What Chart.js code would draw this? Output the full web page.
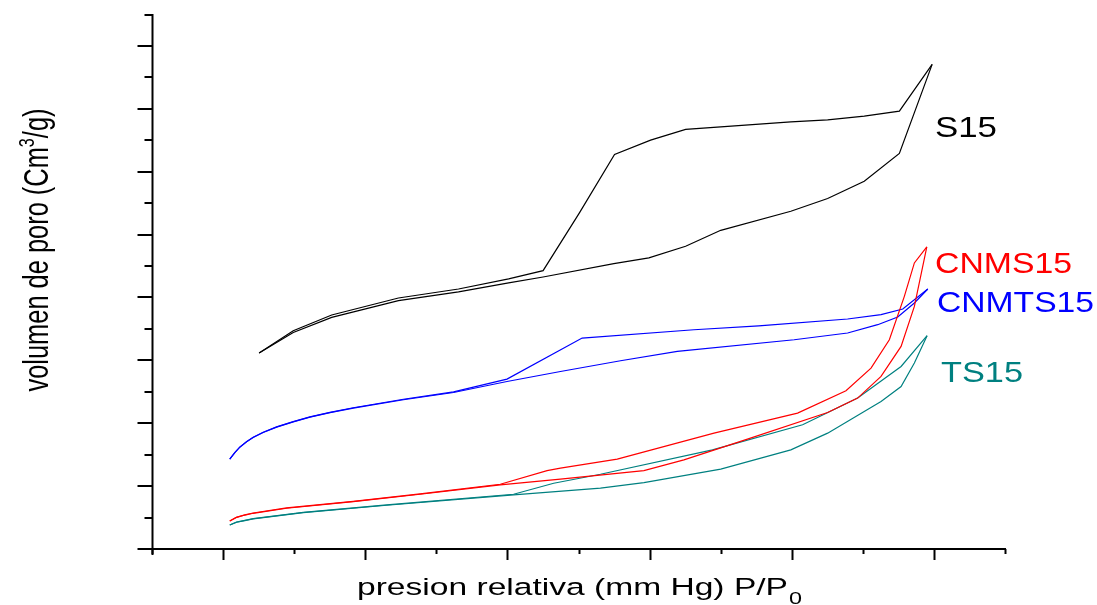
<!DOCTYPE html>
<html>
<head>
<meta charset="utf-8">
<script src="https://cdn.jsdelivr.net/npm/chart.js@4"></script>
<style>
  html, body { margin: 0; padding: 0; background: #fff; }
  #wrap { width: 1097px; height: 605px; }
</style>
</head>
<body>
<div id="wrap"><canvas id="c" width="1097" height="605"></canvas></div>
<script>
// Nitrogen isotherms: relative pressure P/P0 and pore volume,
// adsorption (Ads) and desorption (Des) branches for each sample.

const s15AdsP = [0.0507, 0.0987, 0.1528, 0.2467, 0.3312, 0.4017, 0.4502, 0.5497, 0.599, 0.6507, 0.7001, 0.7987, 0.8505, 0.902, 0.9514, 0.9975];
const s15AdsV = [311.6, 344.4, 368.3, 394.9, 408.8, 423.1, 432.6, 453.8, 462.9, 481.4, 506.8, 537.1, 557.3, 584.9, 629.0, 770.7];
const s15DesP = [0.9975, 0.9514, 0.902, 0.8505, 0.7987, 0.7001, 0.6507, 0.6014, 0.5507, 0.5013, 0.4502, 0.4017, 0.3312, 0.2467, 0.1528, 0.0987, 0.0507];
const s15DesV = [770.7, 696.3, 688.4, 682.3, 679.1, 671.2, 667.2, 650.2, 627.4, 534.6, 442.7, 429.5, 413.5, 399.2, 372.1, 347.1, 311.6];

const cnmts15AdsP = [0.0094, 0.0165, 0.0235, 0.033, 0.0423, 0.0564, 0.0753, 0.0987, 0.1222, 0.1504, 0.1832, 0.2537, 0.3242, 0.3994, 0.4746, 0.5591, 0.639, 0.8034, 0.8786, 0.9209, 0.9491, 0.9725, 0.9914];
const cnmts15AdsV = [142.8, 153.3, 161.9, 170.4, 177.2, 185.2, 193.8, 202.2, 209.7, 217.0, 224.0, 237.3, 248.9, 266.4, 282.3, 299.4, 314.2, 332.8, 343.5, 356.7, 368.9, 391.2, 413.5];
const cnmts15DesP = [0.9914, 0.9562, 0.9256, 0.8786, 0.7535, 0.6624, 0.5051, 0.3994, 0.3242, 0.2537, 0.1832, 0.1504, 0.1222, 0.0987, 0.0753, 0.0564, 0.0423, 0.033, 0.0235, 0.0165, 0.0094];
const cnmts15DesV = [413.5, 381.7, 372.6, 365.8, 354.8, 348.7, 335.5, 270.2, 250.0, 238.1, 224.6, 217.4, 210.2, 202.6, 194.2, 185.6, 177.6, 170.7, 162.1, 153.4, 142.8];

const cnms15AdsP = [0.0094, 0.0188, 0.0306, 0.0423, 0.0894, 0.1832, 0.2772, 0.39, 0.4746, 0.592, 0.6483, 0.7377, 0.8505, 0.8927, 0.9256, 0.9538, 0.9725, 0.99];
const cnms15AdsV = [44.6, 50.2, 54.0, 56.8, 64.8, 75.3, 87.1, 101.9, 111.0, 124.7, 141.7, 174.7, 217.0, 240.0, 274.4, 322.1, 385.8, 480.4];
const cnms15DesP = [0.99, 0.9725, 0.9584, 0.9373, 0.9115, 0.8763, 0.8082, 0.6906, 0.5545, 0.4746, 0.4558, 0.39, 0.2772, 0.1832, 0.0894, 0.0423, 0.0306, 0.0188, 0.0094];
const cnms15DesV = [480.4, 454.9, 401.8, 332.8, 287.7, 251.6, 216.1, 184.2, 142.8, 128.5, 124.7, 103.0, 87.6, 75.6, 65.3, 57.3, 54.3, 50.4, 44.6];

const ts15AdsP = [0.0094, 0.0188, 0.0306, 0.0423, 0.1128, 0.2303, 0.4087, 0.5309, 0.592, 0.7001, 0.7987, 0.8505, 0.9256, 0.9538, 0.9725, 0.9904];
const ts15AdsV = [38.2, 42.5, 45.1, 47.8, 57.8, 69.6, 86.0, 96.7, 105.6, 126.9, 157.6, 184.2, 234.6, 258.4, 295.7, 339.2];
const ts15DesP = [0.9904, 0.9538, 0.8927, 0.8153, 0.6885, 0.5309, 0.4651, 0.4087, 0.2303, 0.1128, 0.0423, 0.0306, 0.0188, 0.0094];
const ts15DesV = [339.2, 290.3, 240.0, 197.5, 157.6, 118.9, 104.6, 87.1, 70.1, 58.1, 48.2, 45.4, 42.7, 38.2];

// Sample names and their colours
const sampleNames = ['S15', 'CNMS15', 'CNMTS15', 'TS15'];
const sampleColors = ['#000000', '#ff0000', '#0000ff', '#008080'];

// Axis ranges and tick spacing
const xMin = -0.1, xMax = 1.1, xMinorStep = 0.1;
const yMin = 0, yMax = 850, yMinorStep = 50;

const xTitle = 'presion relativa (mm Hg) P/P';
const xTitleSub = '0';
const yTitleMain = 'volumen de poro (Cm';
const yTitleSup = '3';
const yTitleEnd = '/g)';

function pts(px, py) { return px.map((p, i) => ({ x: p, y: py[i] })); }

function branch(px, py, color) {
  return {
    data: pts(px, py),
    borderColor: color,
    backgroundColor: color,
    borderWidth: 1.2,
    showLine: true,
    pointRadius: 0,
    pointHoverRadius: 0,
    tension: 0,
    fill: false
  };
}

const FONT = '"Liberation Sans", Arial, Helvetica, sans-serif';

// draws text horizontally stretched so it spans a given width
function wideText(ctx, text, x, y, size, width) {
  ctx.font = size + 'px ' + FONT;
  const w = ctx.measureText(text).width;
  const s = width ? width / w : 1;
  ctx.save();
  ctx.translate(x, y);
  ctx.scale(s, 1);
  ctx.fillText(text, 0, 0);
  ctx.restore();
  return w * s;
}

const axesAndText = {
  id: 'axesAndText',
  afterDraw(chart) {
    const { ctx, scales: { x, y } } = chart;
    ctx.save();
    ctx.strokeStyle = '#000';
    ctx.lineWidth = 2;
    ctx.lineCap = 'butt';

    // axis lines
    const left = Math.round(x.getPixelForValue(xMin)) + 0.5;
    const bottom = Math.round(y.getPixelForValue(yMin));
    ctx.beginPath();
    ctx.moveTo(left, y.getPixelForValue(yMax) - 0.5);
    ctx.lineTo(left, bottom + 6);
    ctx.moveTo(left - 1, bottom);
    ctx.lineTo(x.getPixelForValue(xMax) + 1, bottom);
    ctx.stroke();

    // x ticks: major every other step, pointing down
    const nx = Math.round((xMax - xMin) / xMinorStep);
    for (let i = 0; i <= nx; i++) {
      const v = xMin + i * xMinorStep;
      const px = Math.round(x.getPixelForValue(v)) + 0.5;
      const major = i % 2 === 1;
      ctx.beginPath();
      ctx.moveTo(px, bottom);
      ctx.lineTo(px, bottom + (major ? 11 : 5));
      ctx.stroke();
    }
    // y ticks: major every other step, pointing left
    const ny = Math.round((yMax - yMin) / yMinorStep);
    for (let k = 0; k <= ny; k++) {
      const v = yMin + k * yMinorStep;
      const py = Math.round(y.getPixelForValue(v));
      const major = k % 2 === 0;
      ctx.beginPath();
      ctx.moveTo(left, py);
      ctx.lineTo(left - (major ? 15 : 8), py);
      ctx.stroke();
    }

    // x axis title with subscript
    ctx.fillStyle = '#000';
    ctx.textBaseline = 'alphabetic';
    ctx.textAlign = 'left';
    const tw = wideText(ctx, xTitle, 357, 595, 24.5, 431);
    wideText(ctx, xTitleSub, 357 + tw + 1, 604, 17, 13);

    // y axis title, rotated, glyphs widened across the line
    ctx.save();
    ctx.translate(48, 250);
    ctx.rotate(-Math.PI / 2);
    const mainSize = 25, supSize = 16;
    ctx.font = mainSize + 'px ' + FONT;
    const w1 = ctx.measureText(yTitleMain).width;
    const w3 = ctx.measureText(yTitleEnd).width;
    ctx.font = supSize + 'px ' + FONT;
    const w2 = ctx.measureText(yTitleSup).width;
    const total = w1 + w2 + w3;
    ctx.scale(283 / total, 1.37);
    let tx = -total / 2;
    ctx.font = mainSize + 'px ' + FONT;
    ctx.fillText(yTitleMain, tx, 0);
    tx += w1;
    ctx.font = supSize + 'px ' + FONT;
    ctx.fillText(yTitleSup, tx, -10);
    tx += w2;
    ctx.font = mainSize + 'px ' + FONT;
    ctx.fillText(yTitleEnd, tx, 0);
    ctx.restore();

    // sample labels beside the curve ends
    const labelPos = [[935, 137], [935, 273], [937, 312], [941, 382]];
    const labelWidths = [62, 137, 157, 82];
    sampleNames.forEach((name, i) => {
      ctx.fillStyle = sampleColors[i];
      wideText(ctx, name, labelPos[i][0], labelPos[i][1], 29, labelWidths[i]);
    });
    ctx.restore();
  }
};

const hiddenScale = {
  type: 'linear',
  display: true,
  grid: { display: false, drawTicks: false },
  border: { display: false },
  ticks: { display: false },
  afterFit(s) { if (s.isHorizontal()) s.height = 0; else s.width = 0; }
};

new Chart(document.getElementById('c'), {
  type: 'scatter',
  data: {
    datasets: [
      branch(s15AdsP, s15AdsV, sampleColors[0]),
      branch(s15DesP, s15DesV, sampleColors[0]),
      branch(cnms15AdsP, cnms15AdsV, sampleColors[1]),
      branch(cnms15DesP, cnms15DesV, sampleColors[1]),
      branch(cnmts15AdsP, cnmts15AdsV, sampleColors[2]),
      branch(cnmts15DesP, cnmts15DesV, sampleColors[2]),
      branch(ts15AdsP, ts15AdsV, sampleColors[3]),
      branch(ts15DesP, ts15DesV, sampleColors[3])
    ]
  },
  options: {
    responsive: false,
    animation: false,
    devicePixelRatio: 1,
    layout: { padding: { left: 152, right: 92, top: 14.5, bottom: 56 } },
    plugins: { legend: { display: false }, tooltip: { enabled: false }, title: { display: false } },
    events: [],
    scales: {
      x: Object.assign({}, hiddenScale, { position: 'bottom', min: xMin, max: xMax }),
      y: Object.assign({}, hiddenScale, { position: 'left', min: yMin, max: yMax })
    }
  },
  plugins: [axesAndText]
});
</script>
</body>
</html>
